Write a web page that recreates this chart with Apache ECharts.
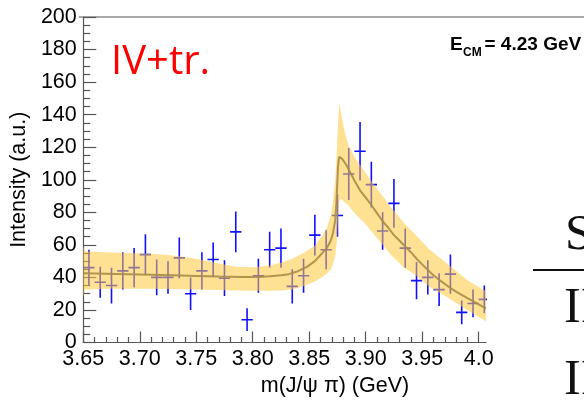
<!DOCTYPE html>
<html>
<head>
<meta charset="utf-8">
<script src="https://cdn.jsdelivr.net/npm/echarts@6/dist/echarts.min.js"></script>
<style>
  html, body { margin: 0; padding: 0; background: #ffffff; }
  #chart { width: 584px; height: 403px; }
</style>
</head>
<body>
<div id="chart"></div>
<script>
// Measured spectrum: bin centres (GeV), intensity and its uncertainty
const binCenters = [3.655, 3.665, 3.675, 3.685, 3.695, 3.705, 3.715, 3.725, 3.735, 3.745,
                    3.755, 3.765, 3.775, 3.785, 3.795, 3.805, 3.815, 3.825, 3.835, 3.845,
                    3.855, 3.865, 3.875, 3.885, 3.895, 3.905, 3.915, 3.925, 3.935, 3.945,
                    3.955, 3.965, 3.975, 3.985, 3.995, 4.005];
const intensity = [46, 37, 35, 44, 46, 54, 40, 40, 52, 30,
                   44, 51, 39.5, 68, 14, 41, 57, 58, 34.5, 41,
                   66, 57, 78, 103.5, 117.5, 97, 68.5, 85.5, 58, 38,
                   40, 32.5, 42, 18.5, 24, 26.5];
const intensityErr = [11, 9.5, 11, 11.5, 12, 12.5, 11, 10, 12.5, 10,
                      11.5, 10.5, 11, 12.5, 7, 10.5, 11, 12, 10.5, 10.5,
                      12.5, 12, 13, 16, 18, 14, 11.5, 15, 12, 11.5,
                      10.5, 10, 12, 7.3, 8.5, 8.5];
const binHalfWidth = 0.005;

// Fitted line shape (IV + triangle singularity)
const fitMass = [3.650, 3.670, 3.690, 3.710, 3.730, 3.750, 3.770, 3.790, 3.805, 3.815,
                 3.825, 3.832, 3.840, 3.848, 3.855, 3.861, 3.866, 3.869, 3.871, 3.873,
                 3.874, 3.8748, 3.8755, 3.8765, 3.8775, 3.879, 3.882, 3.886, 3.890, 3.895,
                 3.900, 3.905, 3.910, 3.915, 3.920, 3.925, 3.930, 3.935, 3.940, 3.945,
                 3.950, 3.955, 3.960, 3.965, 3.970, 3.975, 3.980, 3.985, 3.990, 3.995,
                 4.000, 4.0065];
const fitIntensity = [42.5, 42.3, 42.0, 41.7, 41.3, 40.9, 40.5, 40.2, 40.3, 40.7,
                      41.3, 42.0, 43.8, 46.5, 50.0, 54.5, 58.5, 62.5, 67, 75,
                      85, 97, 108, 114, 114.5, 113, 110, 105, 99.5, 93.5,
                      89, 84.5, 79.5, 74.5, 70.5, 66, 62.5, 59, 55.5, 51.5,
                      48.0, 44.5, 41.3, 38.5, 36.0, 33.5, 31.3, 29.2, 27.2, 25.4,
                      23.5, 21.0];

// Uncertainty band of the fit
const bandMass = [3.6500, 3.6515, 3.670, 3.690, 3.710, 3.730, 3.750, 3.770, 3.785, 3.800,
                  3.815, 3.825, 3.835, 3.845, 3.855, 3.861, 3.866, 3.869, 3.871, 3.873,
                  3.8745, 3.8755, 3.8765, 3.8775, 3.879, 3.8815, 3.8845, 3.890, 3.899, 3.911,
                  3.922, 3.934, 3.943, 3.957, 3.972, 3.990, 4.0065];
const bandLow = [28.0, 32.5, 33.0, 33.0, 33.0, 32.8, 32.5, 32.2, 32.0, 31.8,
                 31.8, 32.0, 32.6, 34.5, 37.5, 40.0, 42.5, 45.0, 48.0, 53.0,
                 62.0, 76.0, 86.0, 88.0, 88.0, 86.0, 84.5, 79.5, 73.5, 63.5,
                 54.0, 46.0, 42.0, 34.0, 28.0, 19.8, 13.0];
const bandHigh = [59.0, 56.0, 55.5, 55.0, 54.5, 53.5, 51.5, 48.5, 46.5, 46.3,
                  47.3, 49.0, 51.5, 55.0, 59.5, 65.0, 71.0, 78.0, 86.0, 100.0,
                  118.0, 134.0, 146.5, 144.0, 138.0, 129.0, 122.0, 114.0, 105.0, 93.5,
                  83.5, 73.5, 67.0, 56.8, 48.5, 38.3, 31.5];

// Axis ticks
const xTickValues = [3.65, 3.70, 3.75, 3.80, 3.85, 3.90, 3.95, 4.00];
const xTickLabels = ['3.65', '3.70', '3.75', '3.80', '3.85', '3.90', '3.95', '4.0'];
const xMinorTicks = [3.66, 3.67, 3.68, 3.69, 3.71, 3.72, 3.73, 3.74, 3.76, 3.77, 3.78, 3.79,
                     3.81, 3.82, 3.83, 3.84, 3.86, 3.87, 3.88, 3.89, 3.91, 3.92, 3.93, 3.94,
                     3.96, 3.97, 3.98, 3.99];
const xRange = [3.65, 4.0065];
const yRange = [0, 200];
const yStep = 20;

const axisGray = '#555555';
const labelFont = 'Liberation Sans';

const chart = echarts.init(document.getElementById('chart'), null, { renderer: 'canvas' });

const errorData = binCenters.map((x, i) => [x, intensity[i], intensityErr[i]]);
const bandData = bandMass.map((x, i) => [x, bandLow[i], bandHigh[i]]);
const fitData = fitMass.map((x, i) => [x, fitIntensity[i]]);

const option = {
  backgroundColor: '#ffffff',
  animation: false,
  grid: { left: 78.8, right: 98, top: 17, bottom: 60.5, containLabel: false },
  xAxis: [
    {
      type: 'value', min: xRange[0], max: xRange[1], position: 'bottom',
      axisLine: { show: true, onZero: false, lineStyle: { color: axisGray, width: 1.2 } },
      axisTick: { show: true, inside: true, length: 11, customValues: xTickValues,
                  lineStyle: { color: axisGray, width: 1.2 } },
      axisLabel: {
        show: true, customValues: xTickValues, margin: 6,
        color: '#000', fontFamily: labelFont, fontSize: 21.5,
        formatter: v => {
          const k = xTickValues.findIndex(t => Math.abs(t - v) < 1e-6);
          return k >= 0 ? xTickLabels[k] : '';
        }
      },
      splitLine: { show: false }
    },
    {
      type: 'value', min: xRange[0], max: xRange[1], position: 'bottom',
      axisLine: { show: false, onZero: false },
      axisTick: { show: true, inside: true, length: 5.5, customValues: xMinorTicks,
                  lineStyle: { color: axisGray, width: 1.2 } },
      axisLabel: { show: false },
      splitLine: { show: false }
    }
  ],
  yAxis: {
    type: 'value', min: yRange[0], max: yRange[1], interval: yStep,
    name: 'Intensity (a.u.)', nameLocation: 'middle', nameGap: 47, nameRotate: 90,
    nameTextStyle: { color: '#000', fontFamily: labelFont, fontSize: 21.5 },
    axisLine: { show: true, onZero: false, lineStyle: { color: axisGray, width: 1.2 } },
    axisTick: { show: true, inside: true, length: 13, lineStyle: { color: axisGray, width: 1.2 } },
    minorTick: { show: true, splitNumber: 4, length: 7, lineStyle: { color: axisGray, width: 1.2 } },
    axisLabel: { color: '#000', fontFamily: labelFont, fontSize: 21.5, margin: 6.5 },
    splitLine: { show: false }
  },
  series: [
    {
      name: 'data', type: 'custom', xAxisIndex: 0, clip: true, z: 2,
      data: errorData,
      encode: { x: 0, y: 1 },
      renderItem: (params, api) => {
        const x = api.value(0), y = api.value(1), e = api.value(2);
        const top = api.coord([x, y + e]);
        const bot = api.coord([x, y - e]);
        const l = api.coord([x - binHalfWidth, y]);
        const r = api.coord([x + binHalfWidth, y]);
        const style = { stroke: '#1010ff', lineWidth: 1.6 };
        return {
          type: 'group',
          children: [
            { type: 'line', shape: { x1: top[0], y1: top[1], x2: bot[0], y2: bot[1] }, style },
            { type: 'line', shape: { x1: l[0], y1: l[1], x2: r[0], y2: r[1] }, style }
          ]
        };
      }
    },
    {
      name: 'band', type: 'custom', xAxisIndex: 0, clip: true, z: 3,
      data: bandData,
      encode: { x: 0, y: [1, 2] },
      renderItem: (params, api) => {
        if (params.dataIndex !== 0) return null;
        const upper = bandMass.map((x, i) => api.coord([x, bandHigh[i]]));
        const lower = bandMass.map((x, i) => api.coord([x, bandLow[i]])).reverse();
        return {
          type: 'polygon',
          shape: { points: upper.concat(lower) },
          style: { fill: 'rgba(255, 200, 60, 0.55)', stroke: null }
        };
      }
    },
    {
      name: 'fit', type: 'line', xAxisIndex: 0, z: 4,
      data: fitData, showSymbol: false, symbol: 'none', smooth: false,
      lineStyle: { color: '#a88c45', width: 2, opacity: 0.9 }
    }
  ],
  graphic: {
    elements: [
      { type: 'line', silent: true, z: 10,
        shape: { x1: 78.8, y1: 17, x2: 584, y2: 17 },
        style: { stroke: axisGray, lineWidth: 1.2 } },
      { type: 'text', silent: true, z: 10, x: 111, y: 63,
        style: { text: 'IV+tr.', fill: '#ff0000', font: '40px "Open Sans"',
                 textAlign: 'left', textVerticalAlign: 'middle' } },
      { type: 'text', silent: true, z: 10, x: 450, y: 45,
        style: { text: 'E', fill: '#000', font: 'bold 19px "Liberation Sans"',
                 textAlign: 'left', textVerticalAlign: 'middle' } },
      { type: 'text', silent: true, z: 10, x: 463, y: 53,
        style: { text: 'CM', fill: '#000', font: 'bold 12px "Liberation Sans"',
                 textAlign: 'left', textVerticalAlign: 'middle' } },
      { type: 'text', silent: true, z: 10, x: 484.5, y: 45,
        style: { text: '= 4.23 GeV', fill: '#000', font: 'bold 19px "Liberation Sans"',
                 textAlign: 'left', textVerticalAlign: 'middle' } },
      { type: 'text', silent: true, z: 10, x: 335, y: 386,
        style: { text: 'm(J/\u03c8 \u03c0) (GeV)', fill: '#000', font: '21.5px "Liberation Sans"',
                 textAlign: 'center', textVerticalAlign: 'middle' } },
      { type: 'text', silent: true, z: 10, x: 565, y: 236,
        style: { text: 'S', fill: '#111', font: '50px "Liberation Serif"',
                 textAlign: 'left', textVerticalAlign: 'middle' } },
      { type: 'line', silent: true, z: 10,
        shape: { x1: 533, y1: 270, x2: 584, y2: 270 },
        style: { stroke: '#111', lineWidth: 2 } },
      { type: 'text', silent: true, z: 10, x: 564, y: 309,
        style: { text: 'II', fill: '#111', font: '50px "Liberation Serif"',
                 textAlign: 'left', textVerticalAlign: 'middle' } },
      { type: 'text', silent: true, z: 10, x: 564, y: 381,
        style: { text: 'II', fill: '#111', font: '50px "Liberation Serif"',
                 textAlign: 'left', textVerticalAlign: 'middle' } }
    ]
  }
};

chart.setOption(option);
</script>
</body>
</html>
